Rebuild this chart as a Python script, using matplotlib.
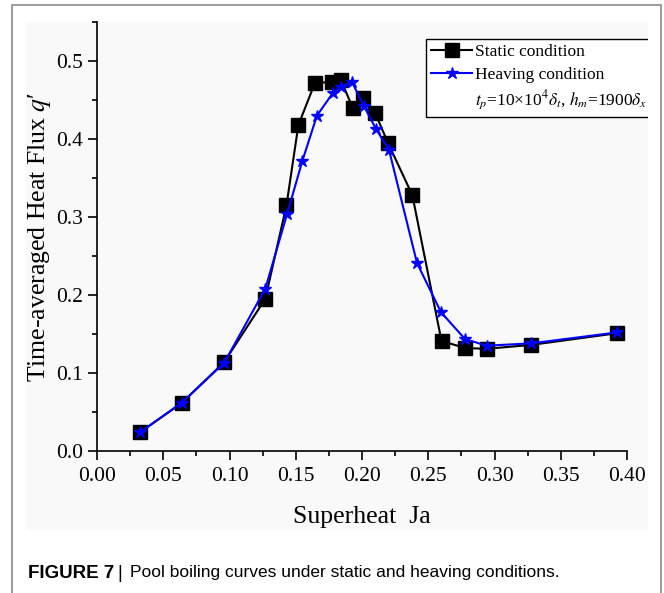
import matplotlib.pyplot as plt
from matplotlib.lines import Line2D
from matplotlib.patches import Rectangle
from matplotlib.ticker import MultipleLocator

plt.rcParams['font.family'] = ['Liberation Serif', 'DejaVu Serif']
plt.rcParams['mathtext.fontset'] = 'stix'

# datos
ja_static = [0.0325, 0.064, 0.096, 0.127, 0.143, 0.152, 0.1645, 0.177, 0.184, 0.193,
             0.2008, 0.21, 0.2196, 0.238, 0.260, 0.278, 0.294, 0.3275, 0.3925]
q_static = [0.024, 0.0615, 0.114, 0.195, 0.315, 0.418, 0.472, 0.473, 0.476, 0.440,
            0.4526, 0.433, 0.395, 0.328, 0.141, 0.132, 0.131, 0.136, 0.151]

ja_heave = [0.0325, 0.064, 0.096, 0.127, 0.1435, 0.155, 0.166, 0.178, 0.184, 0.1925,
            0.2015, 0.2105, 0.2204, 0.2415, 0.2596, 0.2777, 0.294, 0.3275, 0.3925]
q_heave = [0.024, 0.062, 0.113, 0.208, 0.304, 0.372, 0.430, 0.459, 0.467, 0.473,
           0.442, 0.413, 0.386, 0.241, 0.178, 0.1436, 0.135, 0.138, 0.152]

fig = plt.figure(figsize=(6.64, 5.93), dpi=100)

# marco exterior y panel gris claro
fig.patches.append(Rectangle((12/664, -0.1), 649/664, 1.1 - 5/593, transform=fig.transFigure,
                             facecolor='white', edgecolor='#8a8a8a', lw=1.2, zorder=-3))
fig.patches.append(Rectangle((26/664, 1 - 530/593), 622/664, 508/593, transform=fig.transFigure,
                             facecolor='#f9f9f9', edgecolor='none', zorder=-2))

ax = fig.add_axes([97/664, 1 - 451/593, 530/664, 429/593])
ax.set_facecolor('none')

ax.plot(ja_static, q_static, color='black', lw=1.5, marker='s', markersize=10,
        label='Static condition')
ax.plot(ja_heave, q_heave, color='#0000ff', lw=1.5, marker='*', markersize=9,
        label='Heaving condition')

ax.set_xlim(0, 0.40)
ax.set_ylim(0, 0.55)
ax.xaxis.set_major_locator(MultipleLocator(0.05))
ax.xaxis.set_minor_locator(MultipleLocator(0.025))
ax.yaxis.set_major_locator(MultipleLocator(0.1))
ax.yaxis.set_minor_locator(MultipleLocator(0.05))
ax.xaxis.set_major_formatter(plt.FormatStrFormatter('%.2f'))
ax.yaxis.set_major_formatter(plt.FormatStrFormatter('%.1f'))
ax.tick_params(which='major', direction='out', length=6.5, width=1.2, labelsize=15.5)
ax.tick_params(which='minor', direction='out', length=3.5, width=1.2)
ax.tick_params(axis='x', which='major', pad=5)
ax.tick_params(axis='y', which='major', pad=3.5)
ax.spines['top'].set_visible(False)
ax.spines['right'].set_visible(False)
ax.spines['left'].set_linewidth(1.2)
ax.spines['bottom'].set_linewidth(1.2)

ax.set_xlabel('Superheat  Ja', fontsize=18.5)
ax.set_ylabel("Time-averaged Heat Flux $q$\u2032", fontsize=18.5)
ax.xaxis.set_label_coords(0.5, -(506 - 451) / 429)
ax.yaxis.set_label_coords(-(97 - 53) / 530, 0.5)

extra = Line2D([], [], linestyle='none', marker=None)
leg = ax.legend(handles=ax.get_lines() + [extra],
                labels=['Static condition', 'Heaving condition',
                        r'$t_p$=10×10$^4\delta_t$, $h_m$=1900$\delta_x$'],
                loc='upper left', bbox_to_anchor=(426/664, 1 - 39/593),
                bbox_transform=fig.transFigure, borderaxespad=0, fontsize=12.5,
                fancybox=False, edgecolor='black', framealpha=1, facecolor='white',
                handlelength=2.35, handletextpad=0.2, borderpad=0.3, labelspacing=0.35)
leg.get_frame().set_linewidth(1.0)

# la leyenda queda cortada en el borde del panel
ax.add_patch(Rectangle((648/664, 1 - 130/593), 12/664, 110/593, transform=fig.transFigure,
                       facecolor='white', edgecolor='none', clip_on=False, zorder=10))

fig.text(28/664, 1 - 573/593, 'FIGURE 7', fontsize=13.5, fontweight='bold',
         family='Liberation Sans', va='center')
fig.text(117/664, 1 - 573/593, '|', fontsize=13.5, family='Liberation Sans', va='center')
fig.text(130/664, 1 - 573/593, 'Pool boiling curves under static and heaving conditions.',
         fontsize=12.5, family='Liberation Sans', va='center')

plt.savefig('out.png', dpi=100)
